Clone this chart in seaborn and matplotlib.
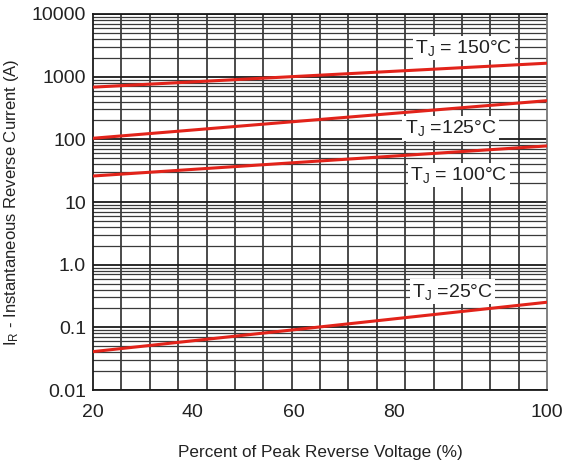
import matplotlib
matplotlib.use("Agg")
import matplotlib.pyplot as plt
import matplotlib.ticker as mticker
import seaborn as sns
import numpy as np
import pandas as pd

# end points of each curve (straight lines on the log scale)
voltage_pct = [20, 100]
ir_150 = [680, 1640]
ir_125 = [104, 414]
ir_100 = [26, 78.5]
ir_25 = [0.041, 0.252]

curve_names = ["150", "125", "100", "25"]
curve_labels = [r"T$_{\mathregular{J}}$ = 150°C", r"T$_{\mathregular{J}}$ =125°C",
                r"T$_{\mathregular{J}}$ = 100°C", r"T$_{\mathregular{J}}$ =25°C"]
label_x = [85.3, 83.0, 84.4, 83.3]
label_y = [2870, 150, 27, 0.37]

ytick_vals = [0.01, 0.1, 1, 10, 100, 1000, 10000]
ytick_text = ["0.01", "0.1", "1.0", "10", "100", "1000", "10000"]
xtick_pos = [20, 37.6, 55.4, 73.1, 100]
xtick_text = ["20", "40", "60", "80", "100"]

df = pd.DataFrame({
    "V": voltage_pct * 4,
    "IR": ir_150 + ir_125 + ir_100 + ir_25,
    "Tj": [n for n in curve_names for _ in voltage_pct],
})

sns.set_style("white")
plt.rcParams["font.family"] = ["Liberation Sans", "DejaVu Sans"]
plt.rcParams["mathtext.default"] = "regular"

fig = plt.figure(figsize=(5.67, 4.66), dpi=100)
ax = fig.add_axes([0.164, 0.163, 0.801, 0.807])

sns.lineplot(data=df, x="V", y="IR", units="Tj", estimator=None,
             color="#e2231a", lw=2.2, ax=ax, zorder=5)

ax.set_yscale("log")
ax.set_ylim(0.01, 10000)
ax.set_xlim(20, 100)
ax.set_yticks(ytick_vals)
ax.set_yticklabels(ytick_text)
ax.yaxis.set_minor_locator(mticker.LogLocator(base=10, subs=np.arange(2, 10)))
ax.yaxis.set_minor_formatter(mticker.NullFormatter())
ax.set_xticks(xtick_pos)
ax.set_xticklabels(xtick_text)
ax.set_xticks(np.arange(20, 101, 5), minor=True)

ax.grid(which="major", axis="y", color="#1a1a1a", lw=1.3)
ax.grid(which="minor", axis="y", color="#3a3a3a", lw=0.9)
ax.grid(which="minor", axis="x", color="#1a1a1a", lw=1.1)
ax.grid(which="major", axis="x", visible=False)
ax.tick_params(which="both", length=0, labelsize=14, pad=5, labelcolor="#222222")
ax.tick_params(axis="x", pad=10)

for s in ["left", "bottom", "top"]:
    ax.spines[s].set_color("#1a1a1a")
    ax.spines[s].set_linewidth(1.3)
ax.spines["right"].set_color("#777777")
ax.spines["right"].set_linewidth(1.3)

for txt, tx, ty in zip(curve_labels, label_x, label_y):
    ax.text(tx, ty, txt, ha="center", va="center", fontsize=14,
            color="#222222", zorder=6,
            bbox=dict(boxstyle="square,pad=0.12", fc="white", ec="none"))

ax.set_xlabel("Percent of Peak Reverse Voltage (%)", fontsize=12.3, color="#222222", labelpad=17)
ax.set_ylabel(r"I$_{\mathregular{R}}$ - Instantaneous Reverse Current (A)", fontsize=12,
              color="#222222", labelpad=8)

fig.savefig("out.png", dpi=100)
